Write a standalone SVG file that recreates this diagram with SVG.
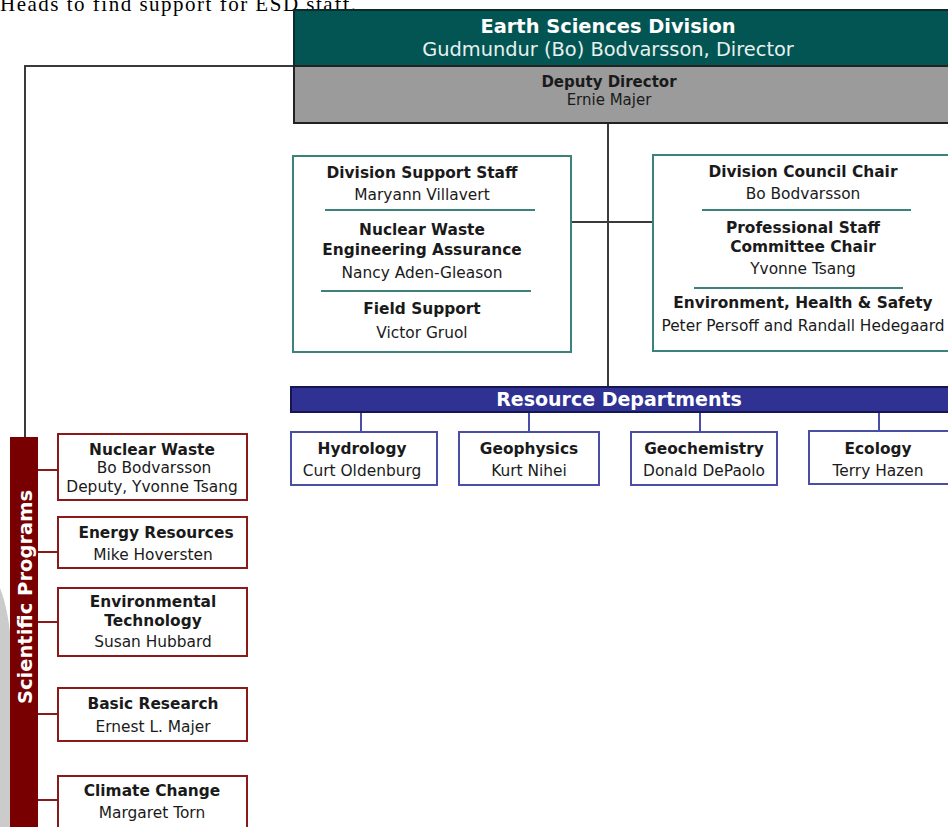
<svg xmlns="http://www.w3.org/2000/svg" width="948" height="827" viewBox="0 0 948 827">
  <style>
    text { font-family: "DejaVu Sans", Verdana, sans-serif; text-anchor: middle; fill: #1a1a1a; }
    .b { font-weight: bold; }
    .t13 { font-size: 15.4px; }
    .conn { stroke: #3a3a3a; stroke-width: 2; fill: none; }
    .teal { fill: #fff; stroke: #3b827d; stroke-width: 2; }
    .sep { stroke: #3b827d; stroke-width: 2; }
    .dept { fill: #fff; stroke: #4a4ea5; stroke-width: 2; }
    .dstub { stroke: #4a4ea5; stroke-width: 2; }
    .prog { fill: #fff; stroke: #8a1a1a; stroke-width: 2; }
    .pstub { stroke: #8a1a1a; stroke-width: 2; }
  </style>

  <rect width="948" height="827" fill="#fff"/>

  <!-- caption line running off the top of the page -->
  <text x="0" y="11" style="font-family:'Liberation Serif',serif;text-anchor:start;font-size:21px;fill:#000" textLength="356">Heads to find support for ESD staff.</text>

  <!-- soft grey backdrop at the left edge -->
  <path d="M0,588 C6,603 11,628 12,658 L12,827 L0,827 Z" fill="#cbcbcb"/>

  <!-- connectors -->
  <g id="connectors">
    <polyline class="conn" points="294,66 25,66 25,437"/>
    <line class="conn" x1="608" y1="123" x2="608" y2="387"/>
    <line class="conn" x1="571" y1="222" x2="653" y2="222"/>
    <line class="dstub" x1="361" y1="412" x2="361" y2="432"/>
    <line class="dstub" x1="529" y1="412" x2="529" y2="432"/>
    <line class="dstub" x1="700" y1="412" x2="700" y2="432"/>
    <line class="dstub" x1="879" y1="412" x2="879" y2="432"/>
    <line class="pstub" x1="38" y1="470" x2="58" y2="470"/>
    <line class="pstub" x1="38" y1="552" x2="58" y2="552"/>
    <line class="pstub" x1="38" y1="622" x2="58" y2="622"/>
    <line class="pstub" x1="38" y1="714" x2="58" y2="714"/>
    <line class="pstub" x1="38" y1="800" x2="58" y2="800"/>
  </g>

  <!-- director -->
  <g id="director">
    <rect x="294" y="10" width="660" height="56" fill="#035553" stroke="#0d2b2a" stroke-width="2"/>
    <text x="608" y="33" class="b" style="font-size:19.4px;fill:#fff">Earth Sciences Division</text>
    <text x="608" y="56" style="font-size:19.4px;fill:#e8f0ef">Gudmundur (Bo) Bodvarsson, Director</text>
  </g>

  <!-- deputy director -->
  <g id="deputy">
    <rect x="294" y="66" width="660" height="57" fill="#9b9b9b" stroke="#222" stroke-width="2"/>
    <text x="609" y="87" class="b" style="font-size:15px">Deputy Director</text>
    <text x="609" y="105" style="font-size:15px">Ernie Majer</text>
  </g>

  <!-- division support -->
  <g id="support">
    <rect class="teal" x="293" y="156" width="278" height="196"/>
    <text x="422" y="178" class="b t13">Division Support Staff</text>
    <text x="422" y="200" class="t13">Maryann Villavert</text>
    <line class="sep" x1="325" y1="210" x2="535" y2="210"/>
    <text x="422" y="235" class="b t13">Nuclear Waste</text>
    <text x="422" y="255" class="b t13">Engineering Assurance</text>
    <text x="422" y="278" class="t13">Nancy Aden-Gleason</text>
    <line class="sep" x1="321" y1="291" x2="531" y2="291"/>
    <text x="422" y="314" class="b t13">Field Support</text>
    <text x="422" y="338" class="t13">Victor Gruol</text>
  </g>

  <!-- council and committees -->
  <g id="council">
    <rect class="teal" x="653" y="155" width="300" height="196"/>
    <text x="803" y="177" class="b t13">Division Council Chair</text>
    <text x="803" y="199" class="t13">Bo Bodvarsson</text>
    <line class="sep" x1="702" y1="210" x2="911" y2="210"/>
    <text x="803" y="233" class="b t13">Professional Staff</text>
    <text x="803" y="252" class="b t13">Committee Chair</text>
    <text x="803" y="274" class="t13">Yvonne Tsang</text>
    <line class="sep" x1="694" y1="288" x2="903" y2="288"/>
    <text x="803" y="308" class="b t13">Environment, Health &amp; Safety</text>
    <text x="803" y="331" class="t13">Peter Persoff and Randall Hedegaard</text>
  </g>

  <!-- resource departments -->
  <g id="resource-departments">
    <rect x="291" y="387" width="662" height="25" fill="#2f3193" stroke="#161650" stroke-width="2"/>
    <text x="619" y="406" class="b" style="font-size:19px;fill:#fff">Resource Departments</text>
  </g>
  <g id="hydrology">
    <rect class="dept" x="291" y="432" width="146" height="53"/>
    <text x="362" y="454" class="b t13">Hydrology</text>
    <text x="362" y="476" class="t13">Curt Oldenburg</text>
  </g>
  <g id="geophysics">
    <rect class="dept" x="459" y="432" width="140" height="53"/>
    <text x="529" y="454" class="b t13">Geophysics</text>
    <text x="529" y="476" class="t13">Kurt Nihei</text>
  </g>
  <g id="geochemistry">
    <rect class="dept" x="631" y="432" width="146" height="53"/>
    <text x="704" y="454" class="b t13">Geochemistry</text>
    <text x="704" y="476" class="t13">Donald DePaolo</text>
  </g>
  <g id="ecology">
    <rect class="dept" x="809" y="431" width="150" height="53"/>
    <text x="878" y="454" class="b t13">Ecology</text>
    <text x="878" y="476" class="t13">Terry Hazen</text>
  </g>

  <!-- scientific programs -->
  <g id="scientific-programs">
    <rect x="10" y="437" width="28" height="395" fill="#780000"/>
    <text transform="translate(31.5,597) rotate(-90)" class="b" style="font-size:19.5px;fill:#fff">Scientific Programs</text>
  </g>
  <g id="nuclear-waste">
    <rect class="prog" x="58" y="434" width="189" height="66"/>
    <text x="152" y="455" class="b t13">Nuclear Waste</text>
    <text x="154" y="473" class="t13">Bo Bodvarsson</text>
    <text x="152" y="492" class="t13">Deputy, Yvonne Tsang</text>
  </g>
  <g id="energy-resources">
    <rect class="prog" x="58" y="517" width="189" height="51"/>
    <text x="156" y="538" class="b t13">Energy Resources</text>
    <text x="153" y="560" class="t13">Mike Hoversten</text>
  </g>
  <g id="environmental-technology">
    <rect class="prog" x="58" y="588" width="189" height="68"/>
    <text x="153" y="607" class="b t13">Environmental</text>
    <text x="153" y="626" class="b t13">Technology</text>
    <text x="153" y="647" class="t13">Susan Hubbard</text>
  </g>
  <g id="basic-research">
    <rect class="prog" x="58" y="688" width="189" height="53"/>
    <text x="153" y="709" class="b t13">Basic Research</text>
    <text x="153" y="732" class="t13">Ernest L. Majer</text>
  </g>
  <g id="climate-change">
    <rect class="prog" x="58" y="776" width="189" height="60"/>
    <text x="152" y="796" class="b t13">Climate Change</text>
    <text x="152" y="818" class="t13">Margaret Torn</text>
  </g>
</svg>
